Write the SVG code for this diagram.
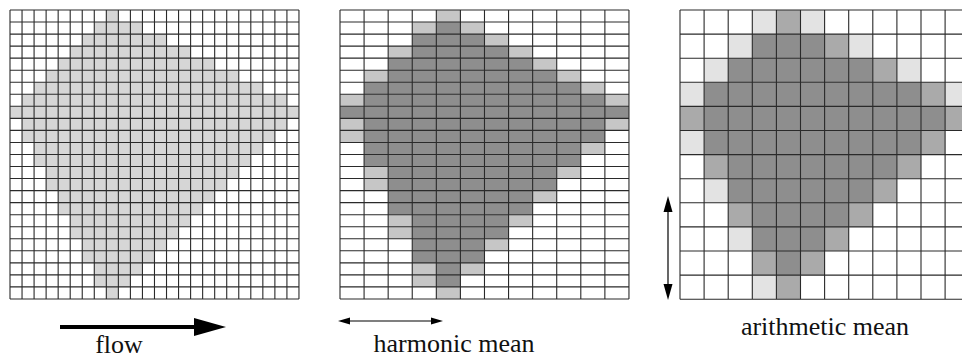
<svg xmlns="http://www.w3.org/2000/svg" width="962" height="361" viewBox="0 0 962 361">
<style>
.lt{fill:#d6d6d6}
.ml{fill:#c6c6c6}
.dk{fill:#8e8e8e}
.md{fill:#aaaaaa}
.rl{fill:#e3e3e3}
.grid{fill:none;stroke:#2a2a2a;stroke-width:1.1;vector-effect:non-scaling-stroke}
.lbl{font-family:"Liberation Serif","Times New Roman",serif;font-size:26px;fill:#111}
.arr{stroke:#000;fill:none}
.head{fill:#000}
</style>
<rect width="962" height="361" fill="#fff"/>

<g id="fine-grid" transform="translate(10,10) scale(12.04)">
  <g class="lt">
    <rect x="8" y="0" width="1" height="1"/>
    <rect x="7" y="1" width="4" height="1"/>
    <rect x="6" y="2" width="7" height="1"/>
    <rect x="5" y="3" width="10" height="1"/>
    <rect x="4" y="4" width="13" height="1"/>
    <rect x="3" y="5" width="16" height="1"/>
    <rect x="2" y="6" width="19" height="1"/>
    <rect x="1" y="7" width="22" height="1"/>
    <rect x="0" y="8" width="24" height="1"/>
    <rect x="1" y="9" width="22" height="1"/>
    <rect x="1" y="10" width="21" height="1"/>
    <rect x="2" y="11" width="19" height="1"/>
    <rect x="2" y="12" width="18" height="1"/>
    <rect x="3" y="13" width="16" height="1"/>
    <rect x="3" y="14" width="15" height="1"/>
    <rect x="4" y="15" width="13" height="1"/>
    <rect x="4" y="16" width="12" height="1"/>
    <rect x="5" y="17" width="10" height="1"/>
    <rect x="5" y="18" width="9" height="1"/>
    <rect x="6" y="19" width="7" height="1"/>
    <rect x="6" y="20" width="6" height="1"/>
    <rect x="7" y="21" width="4" height="1"/>
    <rect x="7" y="22" width="3" height="1"/>
    <rect x="8" y="23" width="1" height="1"/>
  </g>
  <path class="grid" d="M0 0H24M0 1H24M0 2H24M0 3H24M0 4H24M0 5H24M0 6H24M0 7H24M0 8H24M0 9H24M0 10H24M0 11H24M0 12H24M0 13H24M0 14H24M0 15H24M0 16H24M0 17H24M0 18H24M0 19H24M0 20H24M0 21H24M0 22H24M0 23H24M0 24H24M0 0V24M1 0V24M2 0V24M3 0V24M4 0V24M5 0V24M6 0V24M7 0V24M8 0V24M9 0V24M10 0V24M11 0V24M12 0V24M13 0V24M14 0V24M15 0V24M16 0V24M17 0V24M18 0V24M19 0V24M20 0V24M21 0V24M22 0V24M23 0V24M24 0V24"/>
</g>

<g id="harmonic-grid" transform="translate(340,10) scale(24.08,12.04)">
  <g class="ml">
    <rect x="4" y="0" width="1" height="1"/>
    <rect x="3" y="1" width="1" height="1"/><rect x="5" y="1" width="1" height="1"/>
    <rect x="6" y="2" width="1" height="1"/>
    <rect x="2" y="3" width="1" height="1"/><rect x="7" y="3" width="1" height="1"/>
    <rect x="8" y="4" width="1" height="1"/>
    <rect x="1" y="5" width="1" height="1"/><rect x="9" y="5" width="1" height="1"/>
    <rect x="10" y="6" width="1" height="1"/>
    <rect x="0" y="7" width="1" height="1"/><rect x="11" y="7" width="1" height="1"/>
    <rect x="0" y="9" width="1" height="1"/><rect x="11" y="9" width="1" height="1"/>
    <rect x="0" y="10" width="1" height="1"/>
    <rect x="10" y="11" width="1" height="1"/>
    <rect x="1" y="13" width="1" height="1"/><rect x="9" y="13" width="1" height="1"/>
    <rect x="1" y="14" width="1" height="1"/>
    <rect x="8" y="15" width="1" height="1"/>
    <rect x="2" y="17" width="1" height="1"/><rect x="7" y="17" width="1" height="1"/>
    <rect x="2" y="18" width="1" height="1"/>
    <rect x="6" y="19" width="1" height="1"/>
    <rect x="3" y="21" width="1" height="1"/><rect x="5" y="21" width="1" height="1"/>
    <rect x="3" y="22" width="1" height="1"/>
    <rect x="4" y="23" width="1" height="1"/>
  </g>
  <g class="dk">
    <rect x="4" y="1" width="1" height="1"/>
    <rect x="3" y="2" width="3" height="1"/>
    <rect x="3" y="3" width="4" height="1"/>
    <rect x="2" y="4" width="6" height="1"/>
    <rect x="2" y="5" width="7" height="1"/>
    <rect x="1" y="6" width="9" height="1"/>
    <rect x="1" y="7" width="10" height="1"/>
    <rect x="0" y="8" width="12" height="1"/>
    <rect x="1" y="9" width="10" height="1"/>
    <rect x="1" y="10" width="10" height="1"/>
    <rect x="1" y="11" width="9" height="1"/>
    <rect x="1" y="12" width="9" height="1"/>
    <rect x="2" y="13" width="7" height="1"/>
    <rect x="2" y="14" width="7" height="1"/>
    <rect x="2" y="15" width="6" height="1"/>
    <rect x="2" y="16" width="6" height="1"/>
    <rect x="3" y="17" width="4" height="1"/>
    <rect x="3" y="18" width="4" height="1"/>
    <rect x="3" y="19" width="3" height="1"/>
    <rect x="3" y="20" width="3" height="1"/>
    <rect x="4" y="21" width="1" height="1"/>
    <rect x="4" y="22" width="1" height="1"/>
  </g>
  <path class="grid" d="M0 0H12M0 1H12M0 2H12M0 3H12M0 4H12M0 5H12M0 6H12M0 7H12M0 8H12M0 9H12M0 10H12M0 11H12M0 12H12M0 13H12M0 14H12M0 15H12M0 16H12M0 17H12M0 18H12M0 19H12M0 20H12M0 21H12M0 22H12M0 23H12M0 24H12M0 0V24M1 0V24M2 0V24M3 0V24M4 0V24M5 0V24M6 0V24M7 0V24M8 0V24M9 0V24M10 0V24M11 0V24M12 0V24"/>
</g>

<g id="arithmetic-grid" transform="translate(680,10) scale(24.1)">
  <g class="rl">
    <rect x="3" y="0" width="1" height="1"/><rect x="5" y="0" width="1" height="1"/>
    <rect x="2" y="1" width="1" height="1"/><rect x="7" y="1" width="1" height="1"/>
    <rect x="1" y="2" width="1" height="1"/><rect x="9" y="2" width="1" height="1"/>
    <rect x="0" y="3" width="1" height="1"/><rect x="11" y="3" width="1" height="1"/>
    <rect x="0" y="5" width="1" height="1"/>
    <rect x="1" y="7" width="1" height="1"/>
    <rect x="2" y="9" width="1" height="1"/>
    <rect x="3" y="11" width="1" height="1"/>
  </g>
  <g class="md">
    <rect x="4" y="0" width="1" height="1"/>
    <rect x="6" y="1" width="1" height="1"/>
    <rect x="8" y="2" width="1" height="1"/>
    <rect x="10" y="3" width="1" height="1"/>
    <rect x="0" y="4" width="1" height="1"/><rect x="11" y="4" width="1" height="1"/>
    <rect x="10" y="5" width="1" height="1"/>
    <rect x="1" y="6" width="1" height="1"/><rect x="9" y="6" width="1" height="1"/>
    <rect x="8" y="7" width="1" height="1"/>
    <rect x="2" y="8" width="1" height="1"/><rect x="7" y="8" width="1" height="1"/>
    <rect x="6" y="9" width="1" height="1"/>
    <rect x="3" y="10" width="1" height="1"/><rect x="5" y="10" width="1" height="1"/>
    <rect x="4" y="11" width="1" height="1"/>
  </g>
  <g class="dk">
    <rect x="3" y="1" width="3" height="1"/>
    <rect x="2" y="2" width="6" height="1"/>
    <rect x="1" y="3" width="9" height="1"/>
    <rect x="1" y="4" width="10" height="1"/>
    <rect x="1" y="5" width="9" height="1"/>
    <rect x="2" y="6" width="7" height="1"/>
    <rect x="2" y="7" width="6" height="1"/>
    <rect x="3" y="8" width="4" height="1"/>
    <rect x="3" y="9" width="3" height="1"/>
    <rect x="4" y="10" width="1" height="1"/>
  </g>
  <path class="grid" d="M0 0H12M0 1H12M0 2H12M0 3H12M0 4H12M0 5H12M0 6H12M0 7H12M0 8H12M0 9H12M0 10H12M0 11H12M0 12H12M0 0V12M1 0V12M2 0V12M3 0V12M4 0V12M5 0V12M6 0V12M7 0V12M8 0V12M9 0V12M10 0V12M11 0V12M12 0V12"/>
</g>

<g id="connectors">
  <line class="arr" x1="60" y1="327" x2="200" y2="327" stroke-width="4"/>
  <polygon class="head" points="194,318 226,327 194,336"/>
  <line class="arr" x1="346" y1="321" x2="435" y2="321" stroke-width="1.2"/>
  <polygon class="head" points="338,321 350,317.5 350,324.5"/>
  <polygon class="head" points="443,321 431,317.5 431,324.5"/>
  <line class="arr" x1="668" y1="206" x2="668" y2="290" stroke-width="1.2"/>
  <polygon class="head" points="668,196 663.5,212 672.5,212"/>
  <polygon class="head" points="668,300 663.5,284 672.5,284"/>
</g>

<g id="labels">
  <text class="lbl" x="119" y="353" text-anchor="middle">flow</text>
  <text class="lbl" x="454" y="352" text-anchor="middle">harmonic mean</text>
  <text class="lbl" x="825" y="335" text-anchor="middle">arithmetic mean</text>
</g>
</svg>
